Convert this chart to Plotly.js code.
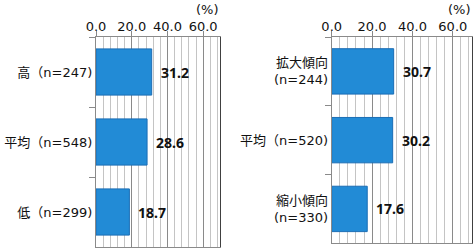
<!DOCTYPE html>
<html>
<head>
<meta charset="utf-8">
<script src="https://cdn.plot.ly/plotly-3.0.1.min.js"></script>
<style>html,body{margin:0;padding:0;background:#fff;}#chart{width:476px;height:250px;}</style>
</head>
<body>
<div id="chart"></div>
<script>
const leftCategories = ["高（n=247)", "平均（n=548)", "低（n=299)"];
const leftValues = [31.2, 28.6, 18.7];
const rightCategories = ["拡大傾向<br>(n=244)", "平均（n=520)", "縮小傾向<br>(n=330)"];
const rightValues = [30.7, 30.2, 17.6];
const tickValues = [0, 20, 40, 60];
const tickLabels = ["0.0", "20.0", "40.0", "60.0"];
const unitLabel = "(%)";

const FONT = '"DejaVu Sans", "Noto Sans CJK JP", sans-serif';
const BOLDFONT = '"Noto Sans", "DejaVu Sans", sans-serif';
const barFill = '#228bd6';
const barLine = '#1a6db5';

function barTrace(cats, vals, xa, ya) {
  return {
    type: 'bar', orientation: 'h', y: cats, x: vals, xaxis: xa, yaxis: ya,
    width: 0.66, marker: {color: barFill, line: {color: barLine, width: 1}},
    hoverinfo: 'none', showlegend: false
  };
}

function xAxis(domain, anchor) {
  return {
    domain: domain, anchor: anchor, side: 'top', range: [0, 70], fixedrange: true,
    tickvals: tickValues, ticktext: tickLabels, ticks: 'outside', ticklen: 5, tickcolor: '#888',
    ticklabelstandoff: -5,
    tickfont: {family: FONT, size: 13, color: '#111'},
    showgrid: true, gridcolor: '#8a8a8a', gridwidth: 1,
    minor: {dtick: 4, tick0: 0, showgrid: true, gridcolor: '#c4c4c4', gridwidth: 1, ticks: ''},
    showline: true, linecolor: '#8a8a8a', linewidth: 1, mirror: true, zeroline: false
  };
}
function yAxis(domain, anchor) {
  return {
    domain: domain, anchor: anchor, type: 'category', autorange: 'reversed', fixedrange: true,
    tickson: 'boundaries', ticks: 'outside', ticklen: 6, tickcolor: '#8a8a8a',
    tickfont: {family: FONT, size: 13, color: '#111'},
    showgrid: false, showline: true, linecolor: '#8a8a8a', linewidth: 1, zeroline: false
  };
}

const annotations = [];
leftCategories.forEach((c, i) => annotations.push({
  xref: 'x', yref: 'y', x: leftValues[i], y: c, text: '<b>' + leftValues[i].toFixed(1) + '</b>',
  showarrow: false, xanchor: 'left', xshift: 7, font: {family: BOLDFONT, size: 14, color: '#111'}
}));
rightCategories.forEach((c, i) => annotations.push({
  xref: 'x2', yref: 'y2', x: rightValues[i], y: c, text: '<b>' + rightValues[i].toFixed(1) + '</b>',
  showarrow: false, xanchor: 'left', xshift: 7, font: {family: BOLDFONT, size: 14, color: '#111'}
}));
['x', 'x2'].forEach(xr => annotations.push({
  xref: xr, yref: 'paper', x: 70, y: 1, yanchor: 'top', xanchor: 'right', yshift: 0,
  text: unitLabel, showarrow: false, font: {family: FONT, size: 13, color: '#111'}
}));

const shapes = [
  {type: 'line', xref: 'x', yref: 'y domain', x0: 70, x1: 70, y0: 0, y1: 1, line: {color: '#000', width: 1.5}},
  {type: 'line', xref: 'x2', yref: 'y2 domain', x0: 70, x1: 70, y0: 0, y1: 1, line: {color: '#000', width: 1.5}}
];

const layout = {
  width: 476, height: 250, margin: {l: 0, r: 0, t: 0, b: 0},
  paper_bgcolor: '#fff', plot_bgcolor: '#fff',
  xaxis: xAxis([96/476, 221/476], 'y'),
  yaxis: yAxis([3/250, 213/250], 'x'),
  xaxis2: xAxis([331.7/476, 473/476], 'y2'),
  yaxis2: yAxis([6.7/250, 213/250], 'x2'),
  annotations: annotations, shapes: shapes
};

Plotly.newPlot('chart', [
  barTrace(leftCategories, leftValues, 'x', 'y'),
  barTrace(rightCategories, rightValues, 'x2', 'y2')
], layout, {staticPlot: true, displayModeBar: false});
</script>
</body>
</html>
